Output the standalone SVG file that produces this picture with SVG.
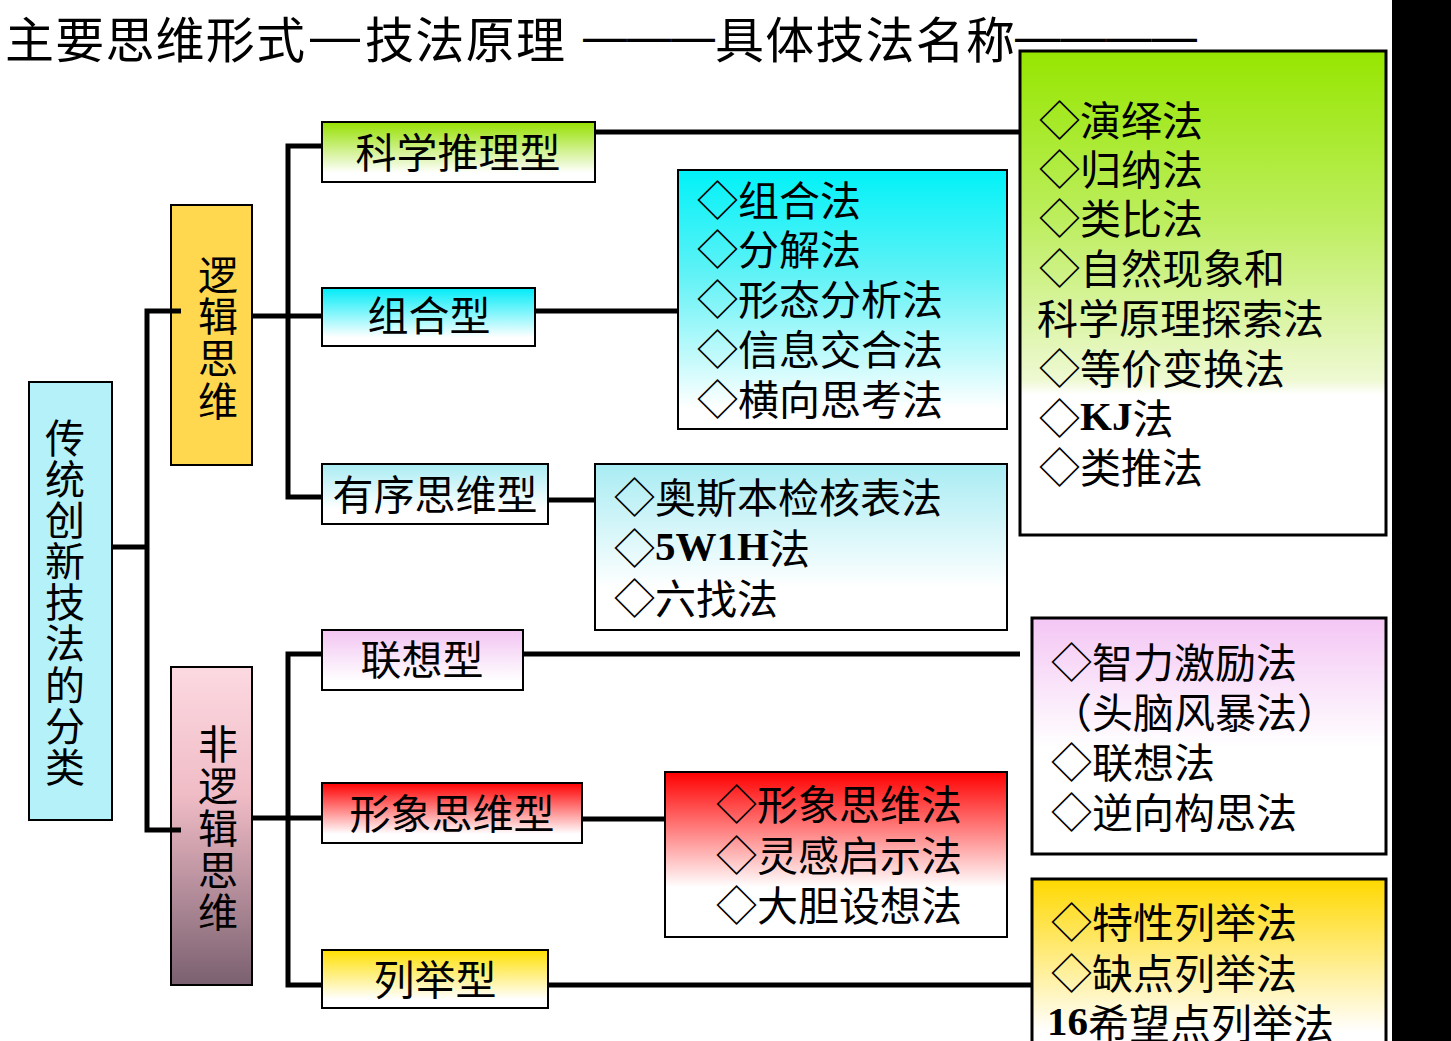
<svg xmlns="http://www.w3.org/2000/svg" width="1451" height="1041" viewBox="0 0 1451 1041">
<defs>
<linearGradient id="gGreen" x1="0" y1="0" x2="0" y2="1"><stop offset="0" stop-color="#96E600"/><stop offset="0.35" stop-color="#BDEE5E"/><stop offset="0.68" stop-color="#EEF9D2"/><stop offset="0.71" stop-color="#FFFFFF"/><stop offset="1" stop-color="#FFFFFF"/></linearGradient>
<linearGradient id="gGreenS" x1="0" y1="0" x2="0" y2="1"><stop offset="0" stop-color="#96E000"/><stop offset="0.85" stop-color="#FFFFFF"/></linearGradient>
<linearGradient id="gCyan" x1="0" y1="0" x2="0" y2="1"><stop offset="0" stop-color="#00F2F8"/><stop offset="0.4" stop-color="#5FF2F6"/><stop offset="0.92" stop-color="#FFFFFF"/></linearGradient>
<linearGradient id="gCyanS" x1="0" y1="0" x2="0" y2="1"><stop offset="0" stop-color="#00ECF8"/><stop offset="0.85" stop-color="#FFFFFF"/></linearGradient>
<linearGradient id="gLCyan" x1="0" y1="0" x2="0" y2="1"><stop offset="0" stop-color="#A8ECF3"/><stop offset="0.75" stop-color="#FFFFFF"/></linearGradient>
<linearGradient id="gPink" x1="0" y1="0" x2="0" y2="1"><stop offset="0" stop-color="#F4C6F4"/><stop offset="0.55" stop-color="#FFFFFF"/></linearGradient>
<linearGradient id="gPinkS" x1="0" y1="0" x2="0" y2="1"><stop offset="0" stop-color="#F2C4F2"/><stop offset="0.85" stop-color="#FFFFFF"/></linearGradient>
<linearGradient id="gRed" x1="0" y1="0" x2="0" y2="1"><stop offset="0" stop-color="#FF0000"/><stop offset="0.7" stop-color="#FFFFFF"/></linearGradient>
<linearGradient id="gRedS" x1="0" y1="0" x2="0" y2="1"><stop offset="0" stop-color="#FF0000"/><stop offset="0.85" stop-color="#FFFFFF"/></linearGradient>
<linearGradient id="gYel" x1="0" y1="0" x2="0" y2="1"><stop offset="0" stop-color="#FFD800"/><stop offset="0.9" stop-color="#FFFFFF"/></linearGradient>
<linearGradient id="gYelS" x1="0" y1="0" x2="0" y2="1"><stop offset="0" stop-color="#FFE000"/><stop offset="0.85" stop-color="#FFFFFF"/></linearGradient>
<linearGradient id="gMauve" x1="0" y1="0" x2="0" y2="1"><stop offset="0" stop-color="#FCD9E1"/><stop offset="0.4" stop-color="#F0BCC6"/><stop offset="1" stop-color="#7A6070"/></linearGradient>
</defs>
<style>
text{font-family:"Noto Sans CJK SC","Noto Sans",sans-serif;fill:#000;dominant-baseline:central;}
.t{font-size:41px;}
.v{font-size:40px;}
.c{text-anchor:middle;}
.b{font-family:"Liberation Serif",serif;font-weight:bold;}
.d{font-family:"Liberation Sans",sans-serif;}
.box{stroke:#000;stroke-width:2;}
.big{stroke:#000;stroke-width:3;}
.conn{fill:none;stroke:#000;stroke-width:5;}
</style>
<rect width="1451" height="1041" fill="#FFFFFF"/>
<rect x="1392" y="0" width="59" height="1041" fill="#000"/>

<g id="title">
<text y="36" font-size="49"><tspan x="5" textLength="300" lengthAdjust="spacing">主要思维形式</tspan><tspan class="d" x="310" textLength="50" lengthAdjust="spacingAndGlyphs">—</tspan><tspan x="365" textLength="200" lengthAdjust="spacing">技法原理</tspan></text>
<text y="36" font-size="49"><tspan class="d" x="583" textLength="132" lengthAdjust="spacingAndGlyphs">———</tspan><tspan x="715" textLength="300" lengthAdjust="spacing">具体技法名称</tspan><tspan class="d" x="1015" textLength="182" lengthAdjust="spacingAndGlyphs">————</tspan></text>
</g>

<g id="n-root">
<rect class="box" x="29" y="382" width="83" height="438" fill="#B5F1F8"/>
<text class="v c"><tspan x="65" y="436">传</tspan><tspan x="65" y="477">统</tspan><tspan x="65" y="518">创</tspan><tspan x="65" y="559">新</tspan><tspan x="65" y="600">技</tspan><tspan x="65" y="641">法</tspan><tspan x="65" y="683">的</tspan><tspan x="65" y="724">分</tspan><tspan x="65" y="765">类</tspan></text>
</g>
<g id="n-logic">
<rect class="box" x="171" y="205" width="81" height="260" fill="#FFD84F"/>
<text class="v c"><tspan x="218" y="273">逻</tspan><tspan x="218" y="314">辑</tspan><tspan x="218" y="356">思</tspan><tspan x="218" y="399">维</tspan></text>
</g>
<g id="n-nonlogic">
<rect class="box" x="171" y="667" width="81" height="318" fill="url(#gMauve)"/>
<text class="v c"><tspan x="218" y="742">非</tspan><tspan x="218" y="784">逻</tspan><tspan x="218" y="826">辑</tspan><tspan x="218" y="868">思</tspan><tspan x="218" y="910">维</tspan></text>
</g>

<g id="n-kexue">
<rect class="box" x="322" y="122" width="273" height="60" fill="url(#gGreenS)"/>
<text class="t c" x="458" y="150">科学推理型</text>
</g>
<g id="n-zuhe">
<rect class="box" x="322" y="288" width="213" height="58" fill="url(#gCyanS)"/>
<text class="t c" x="429" y="313">组合型</text>
</g>
<g id="n-youxu">
<rect class="box" x="322" y="464" width="226" height="60" fill="url(#gLCyan)"/>
<text class="t c" x="435" y="492">有序思维型</text>
</g>
<g id="n-lianxiang">
<rect class="box" x="322" y="630" width="201" height="60" fill="url(#gPinkS)"/>
<text class="t c" x="422" y="657">联想型</text>
</g>
<g id="n-xingxiang">
<rect class="box" x="322" y="783" width="260" height="60" fill="url(#gRedS)"/>
<text class="t c" x="452" y="811">形象思维型</text>
</g>
<g id="n-lieju">
<rect class="box" x="322" y="950" width="226" height="58" fill="url(#gYelS)"/>
<text class="t c" x="435" y="977">列举型</text>
</g>

<g id="m-zuhe">
<rect class="box" x="678" y="170" width="329" height="259" fill="url(#gCyan)"/>
<text class="t"><tspan x="697" y="198">◇组合法</tspan><tspan x="697" y="247">◇分解法</tspan><tspan x="697" y="297">◇形态分析法</tspan><tspan x="697" y="347">◇信息交合法</tspan><tspan x="697" y="397">◇横向思考法</tspan></text>
</g>
<g id="m-youxu">
<rect class="box" x="595" y="464" width="412" height="166" fill="url(#gLCyan)"/>
<text class="t"><tspan x="614" y="495">◇奥斯本检核表法</tspan><tspan x="614" y="546">◇<tspan class="b">5W1H</tspan>法</tspan><tspan x="614" y="596">◇六找法</tspan></text>
</g>
<g id="m-xingxiang">
<rect class="box" x="665" y="772" width="342" height="165" fill="url(#gRed)"/>
<text class="t"><tspan x="716" y="802">◇形象思维法</tspan><tspan x="716" y="853">◇灵感启示法</tspan><tspan x="716" y="903">◇大胆设想法</tspan></text>
</g>
<g id="m-kexue">
<rect class="big" x="1020" y="51" width="366" height="484" fill="url(#gGreen)"/>
<text class="t"><tspan x="1039" y="118">◇演绎法</tspan><tspan x="1039" y="167">◇归纳法</tspan><tspan x="1039" y="216">◇类比法</tspan><tspan x="1039" y="266">◇自然现象和</tspan><tspan x="1037" y="316">科学原理探索法</tspan><tspan x="1039" y="366">◇等价变换法</tspan><tspan x="1039" y="416">◇<tspan class="b">KJ</tspan>法</tspan><tspan x="1039" y="465">◇类推法</tspan></text>
</g>
<g id="m-lianxiang">
<rect class="big" x="1032" y="618" width="354" height="236" fill="url(#gPink)"/>
<text class="t"><tspan x="1051" y="660">◇智力激励法</tspan><tspan x="1051" y="710">（头脑风暴法）</tspan><tspan x="1051" y="760">◇联想法</tspan><tspan x="1051" y="810">◇逆向构思法</tspan></text>
</g>
<g id="m-lieju">
<rect class="big" x="1032" y="879" width="354" height="170" fill="url(#gYel)"/>
<text class="t"><tspan x="1051" y="920">◇特性列举法</tspan><tspan x="1051" y="971">◇缺点列举法</tspan><tspan x="1047" y="1021"><tspan class="b">16</tspan>希望点列举法</tspan></text>
</g>

<g id="connectors">
<path class="conn" d="M112,547 H147"/>
<path class="conn" d="M181,311 H147 V830 H181"/>
<path class="conn" d="M252,316 H322"/>
<path class="conn" d="M322,146 H288 V497 H322"/>
<path class="conn" d="M252,818 H322"/>
<path class="conn" d="M322,654 H288 V985 H322"/>
<path class="conn" d="M595,132 H1020"/>
<path class="conn" d="M535,311 H678"/>
<path class="conn" d="M548,500 H595"/>
<path class="conn" d="M523,654 H1020"/>
<path class="conn" d="M582,819 H665"/>
<path class="conn" d="M548,985 H1032"/>
</g>
</svg>
